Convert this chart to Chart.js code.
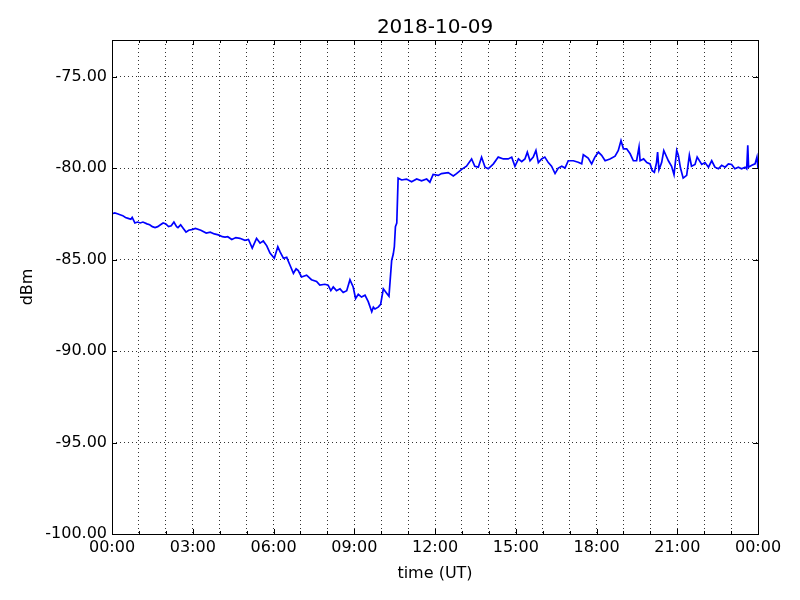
<!DOCTYPE html>
<html>
<head>
<meta charset="utf-8">
<script src="https://cdn.jsdelivr.net/npm/chart.js@4.4.0/dist/chart.umd.min.js"></script>
<style>
  html, body { margin: 0; padding: 0; background: #fff; }
  #wrap { width: 800px; height: 600px; }
</style>
</head>
<body>
<div id="wrap"><canvas id="myChart" width="800" height="600"></canvas></div>
<script>
// Datos (hora UT, dBm)
const titulo = '2018-10-09';
const horas = [
  0.0, 0.1, 0.2, 0.3, 0.4, 0.5, 0.6, 0.7, 0.75, 0.85, 0.95, 1.05, 1.15, 1.3, 1.4, 1.5, 1.6, 1.7, 1.8, 1.9,
  2.0, 2.1, 2.2, 2.3, 2.4, 2.45, 2.55, 2.65, 2.75, 2.85, 3.0, 3.1, 3.3, 3.5, 3.65, 3.8, 3.95, 4.1, 4.2, 4.3,
  4.45, 4.6, 4.75, 4.94, 5.07, 5.21, 5.37, 5.5, 5.62, 5.75, 5.87, 6.03, 6.16, 6.24, 6.37, 6.49, 6.61, 6.74, 6.84, 6.92,
  7.04, 7.23, 7.41, 7.6, 7.72, 7.91, 8.03, 8.13, 8.22, 8.34, 8.47, 8.59, 8.72, 8.84, 8.96, 9.05, 9.15, 9.27, 9.4, 9.52,
  9.65, 9.71, 9.77, 9.89, 9.98, 10.08, 10.21, 10.29, 10.39, 10.45, 10.49, 10.53, 10.58, 10.63, 10.76, 10.94, 11.13, 11.32, 11.5, 11.69,
  11.81, 11.93, 12.12, 12.24, 12.49, 12.68, 12.8, 12.99, 13.17, 13.36, 13.48, 13.61, 13.73, 13.86, 13.98, 14.17, 14.35, 14.54, 14.72, 14.85,
  14.97, 15.1, 15.22, 15.34, 15.43, 15.53, 15.65, 15.75, 15.84, 15.96, 16.08, 16.21, 16.33, 16.46, 16.58, 16.71, 16.83, 16.95, 17.14, 17.32,
  17.45, 17.51, 17.69, 17.82, 17.94, 18.07, 18.19, 18.32, 18.5, 18.69, 18.81, 18.91, 19.0, 19.12, 19.25, 19.37, 19.49, 19.58, 19.62, 19.75,
  19.87, 19.99, 20.07, 20.15, 20.23, 20.27, 20.32, 20.42, 20.5, 20.67, 20.79, 20.88, 20.98, 21.04, 21.12, 21.22, 21.35, 21.45, 21.53, 21.66,
  21.74, 21.91, 22.03, 22.16, 22.28, 22.4, 22.53, 22.65, 22.78, 22.9, 23.02, 23.14, 23.27, 23.39, 23.52, 23.58, 23.62, 23.65, 23.77, 23.89,
  23.96, 24.0
];
const dbm = [
  -82.5, -82.45, -82.5, -82.55, -82.6, -82.7, -82.75, -82.8, -82.7, -83.0, -82.95, -83.0, -82.95, -83.05, -83.1, -83.2, -83.25, -83.2, -83.1, -83.0,
  -83.05, -83.2, -83.15, -82.95, -83.2, -83.25, -83.1, -83.3, -83.5, -83.4, -83.35, -83.3, -83.4, -83.55, -83.5, -83.6, -83.65, -83.75, -83.77, -83.75,
  -83.9, -83.8, -83.84, -83.95, -83.9, -84.37, -83.84, -84.1, -83.98, -84.25, -84.65, -84.93, -84.3, -84.57, -84.93, -84.88, -85.3, -85.75, -85.5, -85.6,
  -85.95, -85.85, -86.1, -86.2, -86.4, -86.35, -86.4, -86.7, -86.5, -86.7, -86.6, -86.8, -86.7, -86.1, -86.5, -87.13, -86.9, -87.05, -86.95, -87.3,
  -87.85, -87.6, -87.7, -87.6, -87.45, -86.6, -86.85, -87.0, -85.05, -84.7, -84.3, -83.2, -83.0, -80.55, -80.65, -80.6, -80.75, -80.6, -80.7, -80.6,
  -80.77, -80.35, -80.4, -80.3, -80.25, -80.43, -80.3, -80.07, -79.9, -79.5, -79.9, -79.95, -79.4, -79.95, -80.04, -79.77, -79.4, -79.5, -79.5, -79.4,
  -79.9, -79.5, -79.65, -79.5, -79.13, -79.6, -79.4, -79.04, -79.7, -79.5, -79.4, -79.7, -79.9, -80.3, -80.0, -79.9, -80.0, -79.6, -79.6, -79.68,
  -79.77, -79.27, -79.45, -79.77, -79.4, -79.13, -79.3, -79.6, -79.5, -79.35, -79.04, -78.5, -78.95, -78.95, -79.22, -79.6, -79.6, -78.85, -79.6, -79.5,
  -79.7, -79.77, -80.15, -80.23, -79.7, -79.13, -80.1, -79.7, -79.04, -79.6, -79.9, -80.36, -79.04, -79.3, -80.0, -80.55, -80.4, -79.3, -79.9, -79.8,
  -79.4, -79.8, -79.7, -79.95, -79.6, -79.95, -80.04, -79.85, -79.95, -79.77, -79.8, -80.04, -79.95, -80.04, -79.95, -80.04, -78.76, -79.95, -79.85, -79.77,
  -79.4, -80.0
];
const ticksY = [-100, -95, -90, -85, -80, -75];
const ticksX = [0, 1, 2, 3, 4, 5, 6, 7, 8, 9, 10, 11, 12, 13, 14, 15, 16, 17, 18, 19, 20, 21, 22, 23, 24];

const fuente = 'DejaVu Sans, sans-serif';

function etiquetaHora(v) {
  if (v % 3 !== 0) return '';
  const h = v % 24;
  return (h < 10 ? '0' : '') + h + ':00';
}

// Marco, títulos y marcas interiores al estilo matplotlib
const marco = {
  id: 'marco',
  afterDraw(chart) {
    const c = chart.ctx;
    const a = chart.chartArea;
    const sx = chart.scales.x, sy = chart.scales.y;
    c.save();
    c.strokeStyle = '#000';
    c.lineWidth = 1;
    c.strokeRect(Math.round(a.left) + 0.5, Math.round(a.top) + 0.5,
      Math.round(a.right - a.left), Math.round(a.bottom - a.top));
    c.beginPath();
    ticksX.forEach(v => {
      const px = Math.round(sx.getPixelForValue(v)) + 0.5;
      const len = v % 3 === 0 ? 5 : 3;
      c.moveTo(px, a.bottom); c.lineTo(px, a.bottom - len);
      c.moveTo(px, a.top); c.lineTo(px, a.top + len);
    });
    ticksY.forEach(v => {
      const py = Math.round(sy.getPixelForValue(v)) + 0.5;
      c.moveTo(a.left, py); c.lineTo(a.left + 5, py);
      c.moveTo(a.right, py); c.lineTo(a.right - 5, py);
    });
    c.stroke();
    c.fillStyle = '#000';
    c.textAlign = 'center';
    c.textBaseline = 'alphabetic';
    c.font = '20px ' + fuente;
    c.fillText(titulo, (a.left + a.right) / 2, 33);
    c.font = '16px ' + fuente;
    c.fillText('time (UT)', (a.left + a.right) / 2, 578);
    c.translate(32, (a.top + a.bottom) / 2);
    c.rotate(-Math.PI / 2);
    c.fillText('dBm', 0, 0);
    c.restore();
  }
};

const ctx = document.getElementById('myChart').getContext('2d');
const myChart = new Chart(ctx, {
  type: 'line',
  data: {
    datasets: [{
      data: horas.map((h, i) => ({ x: h, y: dbm[i] })),
      borderColor: '#0000ff',
      borderWidth: 1.7,
      pointRadius: 0,
      tension: 0,
      fill: false
    }]
  },
  options: {
    responsive: false,
    animation: false,
    layout: { padding: { top: 40, right: 42, left: 0, bottom: 0 } },
    plugins: { legend: { display: false }, tooltip: { enabled: false }, title: { display: false } },
    scales: {
      x: {
        type: 'linear',
        min: 0,
        max: 24,
        afterBuildTicks: s => { s.ticks = ticksX.map(v => ({ value: v })); },
        afterFit: s => { s.height = 66; },
        ticks: {
          autoSkip: false,
          maxRotation: 0,
          padding: 4,
          color: '#000',
          font: { family: fuente, size: 16 },
          callback: v => etiquetaHora(v)
        },
        grid: {
          drawTicks: false,
          lineWidth: 1,
          color: c => (c.tick && (c.tick.value === 0 || c.tick.value === 24)) ? 'rgba(0,0,0,0)' : 'rgba(0,0,0,0.8)'
        },
        border: { display: false, dash: [1, 3] }
      },
      y: {
        min: -100,
        max: -73,
        afterBuildTicks: s => { s.ticks = ticksY.map(v => ({ value: v })); },
        afterFit: s => { s.width = 112; },
        ticks: {
          padding: 5,
          color: '#000',
          font: { family: fuente, size: 16 },
          callback: v => v.toFixed(2)
        },
        grid: {
          drawTicks: false,
          lineWidth: 1,
          color: c => (c.tick && c.tick.value === -100) ? 'rgba(0,0,0,0)' : 'rgba(0,0,0,0.8)'
        },
        border: { display: false, dash: [1, 3] }
      }
    }
  },
  plugins: [marco]
});
</script>
</body>
</html>
